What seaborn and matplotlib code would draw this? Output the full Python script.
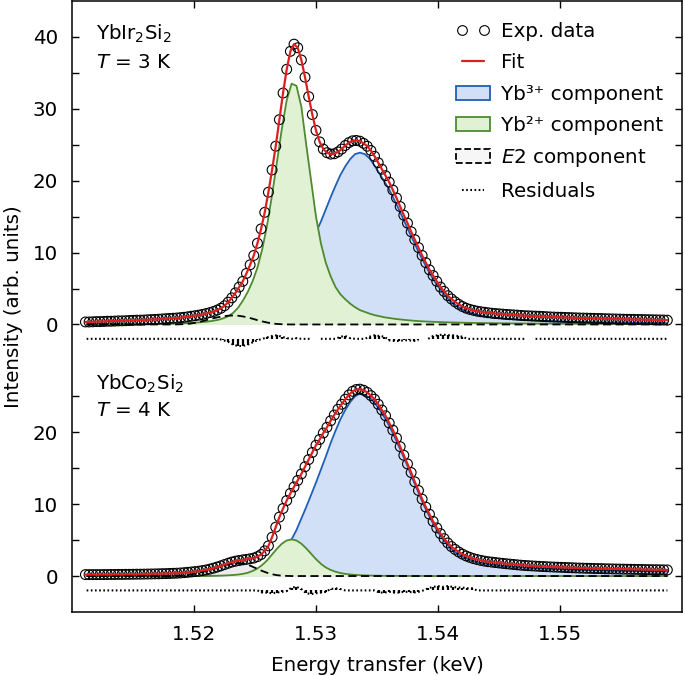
"""
plot.py
Yb L3-edge spectra: YbIr2Si2 (T = 3 K, shifted up) and YbCo2Si2 (T = 4 K)
with Yb3+, Yb2+ and E2 fit components plus residuals.
"""
import numpy as np
import pandas as pd
import matplotlib
matplotlib.use("Agg")
import matplotlib.pyplot as plt
from matplotlib.lines import Line2D
from matplotlib.patches import Patch
import seaborn as sns

sns.set_theme(style="ticks")
plt.rcParams["font.family"] = ["DejaVu Sans"]
plt.rcParams["mathtext.fontset"] = "dejavusans"
for key in ["text.color", "axes.labelcolor", "xtick.color", "ytick.color"]:
    plt.rcParams[key] = "black"
FS = 14.3

RED = "#dc2020"
BLUE = "#1f5fb5"
BLUE_FILL = "#d1e0f7"
GREEN = "#4e8a2e"
GREEN_FILL = "#e1f1d4"
E2_FILL = "#ececec"

IR_OFFSET = 35.0   # YbIr2Si2 curves are shifted up by this much
RES_BASE = -2.0    # residuals are drawn below each spectrum

# measured points: 0.3 eV steps; fit components: 0.4 eV steps (keV)
energy_exp = np.round(1.5111 + 0.0003 * np.arange(160), 4)
energy = np.round(1.5112 + 0.0004 * np.arange(120), 4)

# ---- YbIr2Si2, T = 3 K ----
ir_data = [
    0.35, 0.35, 0.37, 0.4, 0.4, 0.42, 0.45, 0.45, 0.47, 0.5,
    0.5, 0.52, 0.55, 0.57, 0.6, 0.6, 0.62, 0.65, 0.68, 0.7,
    0.73, 0.77, 0.8, 0.84, 0.87, 0.9, 0.95, 1.0, 1.07, 1.15,
    1.22, 1.3, 1.4, 1.52, 1.65, 1.8, 2.0, 2.25, 2.6, 3.1,
    3.7, 4.4, 5.2, 6.0, 7.1, 8.3, 9.6, 11.3, 13.3, 15.6,
    18.4, 21.5, 24.8, 28.5, 32.2, 35.5, 38.0, 39.0, 38.5, 36.8,
    34.4, 31.7, 29.2, 27.0, 25.4, 24.4, 23.9, 23.7, 23.75, 24.0,
    24.4, 24.9, 25.3, 25.55, 25.6, 25.5, 25.2, 24.8, 24.2, 23.4,
    22.5, 21.6, 20.7, 19.8, 18.7, 17.6, 16.4, 15.2, 14.1, 12.9,
    11.8, 10.7, 9.6, 8.6, 7.6, 6.8, 6.0, 5.2, 4.6, 4.0,
    3.55, 3.15, 2.8, 2.5, 2.27, 2.1, 1.97, 1.85, 1.77, 1.7,
    1.63, 1.57, 1.52, 1.48, 1.44, 1.4, 1.36, 1.33, 1.3, 1.26,
    1.22, 1.2, 1.18, 1.16, 1.14, 1.11, 1.08, 1.05, 1.03, 1.01,
    1.0, 0.98, 0.96, 0.94, 0.92, 0.9, 0.89, 0.88, 0.86, 0.85,
    0.83, 0.82, 0.8, 0.79, 0.77, 0.76, 0.75, 0.73, 0.72, 0.71,
    0.7, 0.69, 0.68, 0.67, 0.66, 0.65, 0.64, 0.63, 0.62, 0.6,
]
ir_yb3 = [
    0.02, 0.02, 0.02, 0.03, 0.03, 0.03, 0.04, 0.04, 0.05, 0.05,
    0.06, 0.06, 0.07, 0.07, 0.08, 0.09, 0.1, 0.1, 0.11, 0.12,
    0.13, 0.15, 0.17, 0.19, 0.22, 0.25, 0.29, 0.33, 0.38, 0.44,
    0.5, 0.6, 0.75, 0.9, 1.1, 1.35, 1.65, 2.0, 2.45, 3.0,
    3.7, 4.5, 5.5, 6.7, 8.1, 9.6, 11.2, 12.8, 14.3, 16.0,
    17.7, 19.3, 20.8, 22.0, 23.0, 23.7, 23.9, 23.7, 23.1, 22.1,
    21.0, 19.9, 18.8, 17.4, 16.0, 14.5, 13.0, 11.6, 10.1, 8.8,
    7.5, 6.3, 5.3, 4.4, 3.6, 3.0, 2.5, 2.1, 1.8, 1.55,
    1.35, 1.2, 1.1, 1.0, 0.92, 0.86, 0.8, 0.75, 0.7, 0.66,
    0.62, 0.59, 0.56, 0.53, 0.5, 0.48, 0.46, 0.44, 0.42, 0.4,
    0.38, 0.37, 0.35, 0.34, 0.33, 0.31, 0.3, 0.29, 0.28, 0.27,
    0.26, 0.25, 0.24, 0.23, 0.22, 0.22, 0.21, 0.2, 0.2, 0.19,
]
ir_yb2 = [
    0.05, 0.05, 0.05, 0.05, 0.05, 0.05, 0.05, 0.05, 0.05, 0.05,
    0.05, 0.05, 0.05, 0.06, 0.06, 0.07, 0.08, 0.1, 0.12, 0.14,
    0.17, 0.2, 0.24, 0.29, 0.35, 0.42, 0.52, 0.65, 0.85, 1.15,
    1.6, 2.3, 3.3, 4.5, 6.0, 7.9, 10.5, 13.9, 18.0, 22.6,
    27.2, 31.2, 33.5, 33.2, 30.3, 25.0, 20.0, 15.0, 11.3, 8.6,
    6.7, 5.2, 4.2, 3.5, 2.9, 2.4, 2.0, 1.75, 1.5, 1.3,
    1.15, 1.0, 0.9, 0.8, 0.72, 0.65, 0.58, 0.52, 0.47, 0.43,
    0.4, 0.37, 0.34, 0.32, 0.3, 0.28, 0.26, 0.25, 0.23, 0.22,
    0.21, 0.2, 0.19, 0.18, 0.17, 0.16, 0.16, 0.15, 0.14, 0.14,
    0.13, 0.13, 0.12, 0.12, 0.12, 0.11, 0.11, 0.11, 0.1, 0.1,
    0.1, 0.1, 0.09, 0.09, 0.09, 0.09, 0.09, 0.08, 0.08, 0.08,
    0.08, 0.08, 0.08, 0.07, 0.07, 0.07, 0.07, 0.07, 0.07, 0.07,
]
ir_e2 = [0.0] * 19 + [
    0.02, 0.05, 0.1, 0.2, 0.35, 0.52, 0.7, 0.88, 1.02, 1.14, 1.22,
    1.25, 1.22, 1.12, 0.98, 0.8, 0.6, 0.42, 0.27, 0.15, 0.07,
    0.03, 0.01,
] + [0.0] * 78
ir_resid = [
    0, 0, 0, 0, 0, 0, 0, 0, 0, 0,
    0, 0, 0, 0, 0, 0, 0, 0, 0, 0,
    0, 0, 0, 0, 0, 0, 0, 0, -0.2, -0.4,
    -0.8, -1.0, -1.0, -0.8, -0.5, -0.2, 0, 0.2, 0.4, 0.5,
    0.3, 0.1, 0, 0.1, 0, 0, 0, np.nan, 0, 0,
    0, 0, 0.3, 0.4, 0.1, 0, 0, 0, 0.3, 0.5,
    0.4, 0.3, -0.2, -0.3, -0.3, -0.2, -0.2, -0.3, -0.2, np.nan,
    0, 0.4, 0.5, 0.6, 0.5, 0.5, 0.4, 0.3, 0, 0,
    0, 0, 0, 0, 0, 0, 0, 0, 0, 0,
    0, np.nan, 0, 0, 0, 0, 0, 0, 0, 0,
    0, 0, 0, 0, 0, 0, 0, 0, 0, 0,
    0, 0, 0, 0, 0, 0, 0, 0, 0, 0,
]

# ---- YbCo2Si2, T = 4 K ----
co_data = [
    0.2, 0.2, 0.2, 0.2, 0.2, 0.21, 0.21, 0.22, 0.22, 0.23,
    0.23, 0.24, 0.24, 0.25, 0.26, 0.26, 0.27, 0.28, 0.29, 0.3,
    0.31, 0.33, 0.34, 0.36, 0.38, 0.4, 0.43, 0.47, 0.52, 0.57,
    0.62, 0.68, 0.76, 0.85, 0.96, 1.1, 1.25, 1.42, 1.6, 1.78,
    1.95, 2.07, 2.16, 2.25, 2.32, 2.4, 2.5, 2.7, 3.0, 3.5,
    4.2, 5.4, 6.8, 8.2, 9.4, 10.5, 11.5, 12.4, 13.3, 14.2,
    15.2, 16.2, 17.2, 18.2, 19.0, 19.9, 20.7, 21.6, 22.4, 23.2,
    23.9, 24.6, 25.2, 25.7, 25.95, 26.0, 25.85, 25.55, 25.1, 24.6,
    23.9, 23.1, 22.3, 21.3, 20.3, 19.2, 18.0, 16.8, 15.6, 14.4,
    13.1, 11.9, 10.7, 9.6, 8.6, 7.6, 6.7, 5.9, 5.2, 4.6,
    4.1, 3.7, 3.35, 3.05, 2.8, 2.6, 2.43, 2.3, 2.18, 2.08,
    2.0, 1.94, 1.88, 1.82, 1.76, 1.71, 1.66, 1.61, 1.56, 1.51,
    1.47, 1.44, 1.41, 1.38, 1.35, 1.32, 1.3, 1.27, 1.25, 1.23,
    1.21, 1.19, 1.17, 1.15, 1.13, 1.11, 1.1, 1.08, 1.07, 1.05,
    1.04, 1.03, 1.01, 1.0, 0.99, 0.98, 0.97, 0.96, 0.95, 0.94,
    0.93, 0.92, 0.91, 0.9, 0.89, 0.88, 0.88, 0.87, 0.86, 0.85,
]
co_yb3 = [0.0] * 25 + [
    0.02, 0.04, 0.06, 0.09, 0.13,
    0.18, 0.25, 0.32, 0.4, 0.55, 0.75, 1.0, 1.35, 1.8, 2.4,
    3.1, 4.0, 5.1, 6.4, 8.0, 9.6, 11.3, 13.0, 14.8, 16.6,
    18.5, 20.2, 21.8, 23.1, 24.2, 25.0, 25.4, 25.2, 24.8, 24.1,
    23.2, 22.1, 20.9, 19.5, 18.0, 16.5, 14.9, 13.2, 11.6, 10.0,
    8.6, 7.3, 6.1, 5.1, 4.3, 3.6, 3.1, 2.7, 2.4, 2.15,
    1.95, 1.8, 1.68, 1.58, 1.5, 1.42, 1.36, 1.3, 1.25, 1.2,
    1.15, 1.12, 1.08, 1.05, 1.02, 0.99, 0.96, 0.94, 0.91, 0.89,
    0.87, 0.85, 0.83, 0.81, 0.8, 0.78, 0.77, 0.75, 0.74, 0.73,
    0.72, 0.71, 0.7, 0.69, 0.68, 0.67, 0.66, 0.65, 0.64, 0.63,
]
co_yb2 = [0.0] * 25 + [
    0.02, 0.03, 0.05, 0.07, 0.1,
    0.14, 0.2, 0.3, 0.45, 0.7, 1.05, 1.55, 2.2, 3.0, 3.8,
    4.5, 4.95, 5.1, 4.95, 4.5, 3.85, 3.1, 2.35, 1.7, 1.2,
    0.85, 0.6, 0.42, 0.3, 0.22, 0.16, 0.12, 0.09, 0.07, 0.05,
    0.04, 0.03, 0.03, 0.02, 0.02, 0.02, 0.01, 0.01, 0.01, 0.01,
] + [0.0] * 50
co_e2 = [0.0] * 18 + [
    0.02, 0.05,
    0.1, 0.18, 0.3, 0.45, 0.62, 0.82, 1.05, 1.28, 1.48, 1.64,
    1.75, 1.8, 1.75, 1.6, 1.3, 1.0, 0.7, 0.45, 0.25, 0.12,
    0.05, 0.02,
] + [0.0] * 78
co_resid = [0.0] * 30 + [
    0, 0, 0, 0, 0, 0, -0.3, -0.3, -0.4, -0.3,
    -0.2, -0.1, 0.4, 0.5, 0.2, -0.4, -0.5, -0.4, -0.3, -0.2,
    0.2, 0.3, 0.2, 0, 0, 0, 0, 0, 0, 0,
    -0.3, -0.3, -0.2, -0.3, -0.3, -0.2, -0.2, -0.3, -0.2, 0,
    0.3, 0.5, 0.6, 0.5, 0.6, 0.5, 0.4, 0.4, 0.3, 0.3,
] + [0.0] * 40

for arr in (ir_data, co_data):
    assert len(arr) == len(energy_exp), len(arr)
for arr in (ir_yb3, ir_yb2, ir_e2, ir_resid, co_yb3, co_yb2, co_e2, co_resid):
    assert len(arr) == len(energy), len(arr)

y_major = [0, 10, 20, 35, 45, 55, 65, 75]
y_major_labels = ["0", "10", "20", "0", "10", "20", "30", "40"]
y_minor = [5, 15, 25, 40, 50, 60, 70]
x_ticks = [1.52, 1.53, 1.54, 1.55]


def build_frames(data, yb3, yb2, e2, resid, offset):
    exp = pd.DataFrame({"energy": energy_exp, "data": np.array(data) + offset})
    comp = pd.DataFrame({"energy": energy, "yb3": yb3, "yb2": yb2, "e2": e2})
    for col in ["yb3", "yb2", "e2"]:
        comp[col] = comp[col] + offset
    comp["resid"] = np.array(resid, dtype=float) + offset + RES_BASE
    comp["base"] = offset
    return exp, comp


def draw_panel(ax, exp, comp, offset):
    x = comp["energy"]
    ax.fill_between(x, comp["base"], comp["yb3"], color=BLUE_FILL, lw=0, zorder=1)
    sns.lineplot(x=x, y=comp["yb3"], color=BLUE, lw=1.3, ax=ax, zorder=2)
    ax.fill_between(x, comp["base"], comp["e2"], color=E2_FILL, lw=0, zorder=2.5)
    ax.fill_between(x, comp["base"], comp["yb2"], color=GREEN_FILL, lw=0, zorder=3)
    sns.lineplot(x=x, y=comp["yb2"], color=GREEN, lw=1.3, ax=ax, zorder=4)
    sns.lineplot(x=x, y=comp["e2"], color="black", lw=1.3, ax=ax, zorder=5,
                 linestyle=(0, (4.5, 2.5)))

    # residuals: dotted baseline with short bars where the fit misses
    res_base = offset + RES_BASE
    ax.vlines(x, res_base, comp["resid"], color="black", lw=1.6, zorder=5)
    ax.plot(x, comp["resid"], color="black", lw=1.5, ls=(0, (0.8, 1.2)), zorder=5)

    sns.scatterplot(x=exp["energy"], y=exp["data"], ax=ax, s=50, marker="o", zorder=6)
    pts = ax.collections[-1]
    pts.set_facecolor("none")
    pts.set_edgecolor("black")
    pts.set_linewidth(0.8)

    sns.lineplot(x=exp["energy"], y=exp["data"], color=RED, lw=1.6, ax=ax, zorder=7)


ir_exp, ir_comp = build_frames(ir_data, ir_yb3, ir_yb2, ir_e2, ir_resid, IR_OFFSET)
co_exp, co_comp = build_frames(co_data, co_yb3, co_yb2, co_e2, co_resid, 0.0)

fig = plt.figure(figsize=(6.85, 6.76), dpi=100)
ax = fig.add_axes([0.1051, 0.0947, 0.8905, 0.9038])

draw_panel(ax, ir_exp, ir_comp, IR_OFFSET)
draw_panel(ax, co_exp, co_comp, 0.0)

ax.set_xlim(1.510, 1.560)
ax.set_ylim(-5, 80)
ax.set_xticks(x_ticks)
ax.set_xticklabels([f"{t:.2f}" for t in x_ticks])
ax.set_yticks(y_major)
ax.set_yticklabels(y_major_labels)
ax.set_yticks(y_minor, minor=True)
ax.tick_params(which="both", direction="in", top=True, right=True,
               length=5, width=1, color="black", labelcolor="black", labelsize=FS)
ax.tick_params(axis="x", pad=9.5)
ax.tick_params(axis="y", pad=10)
for sp in ax.spines.values():
    sp.set_color("black")
    sp.set_linewidth(1.1)

ax.set_xlabel("Energy transfer (keV)", fontsize=FS, color="black")
ax.set_ylabel("Intensity (arb. units)", fontsize=FS, color="black")
ax.xaxis.set_label_coords(0.5, -0.072)
ax.yaxis.set_label_coords(-0.080, 0.5)

ax.text(0.040, 0.9373, "YbIr$_2$Si$_2$", transform=ax.transAxes, fontsize=FS)
ax.text(0.040, 0.8898, "$T$ = 3 K", transform=ax.transAxes, fontsize=FS)
ax.text(0.040, 0.3633, "YbCo$_2$Si$_2$", transform=ax.transAxes, fontsize=FS)
ax.text(0.040, 0.3208, "$T$ = 4 K", transform=ax.transAxes, fontsize=FS)

handles = [
    Line2D([], [], ls="none", marker="o", markersize=7, mfc="none",
           mec="black", mew=0.8),
    Line2D([], [], color=RED, lw=1.6),
    Patch(facecolor=BLUE_FILL, edgecolor=BLUE, lw=1.3),
    Patch(facecolor=GREEN_FILL, edgecolor=GREEN, lw=1.3),
    Patch(facecolor="#f6f6f6", edgecolor="black", lw=1.3, linestyle="--"),
    Line2D([], [], color="black", lw=1.5, ls=(0, (0.8, 1.2))),
]
labels = ["Exp. data", "Fit", "Yb\u00b3\u207a component", "Yb\u00b2\u207a component",
          "$E$2 component", "Residuals"]
ax.legend(handles, labels, loc="upper left", bbox_to_anchor=(0.6295, 0.9656),
          frameon=False, fontsize=FS, numpoints=2, handlelength=1.7,
          handletextpad=0.57, labelspacing=0.62, borderpad=0, borderaxespad=0,
          labelcolor="black")

fig.savefig("out.png", dpi=100)
